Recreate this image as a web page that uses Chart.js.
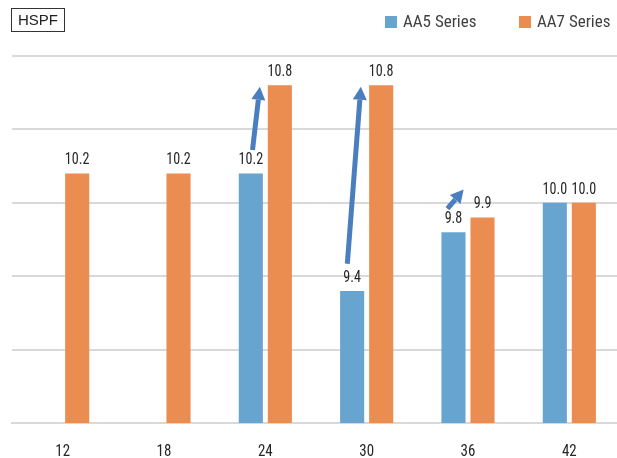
<!DOCTYPE html>
<html>
<head>
<meta charset="utf-8">
<script src="https://cdn.jsdelivr.net/npm/chart.js@4"></script>
<style>
  html, body { margin: 0; padding: 0; background: #fff; overflow: hidden; }
  #wrap { position: relative; width: 617px; height: 458px; overflow: hidden; }
  #c { position: absolute; left: 0; top: 0; }
  #unit {
    position: absolute; left: 11px; top: 8px; width: 52px; height: 22px;
    border: 1px solid #333; font: 15px 'Liberation Sans', Arial, sans-serif;
    color: #222; text-align: center; line-height: 22px;
  }
  .leg { position: absolute; top: 11px; white-space: nowrap; font: condensed 17px 'Roboto Condensed', Roboto, sans-serif; color: #404040; }
  .leg span { display: inline-block; width: 12px; height: 12px; margin-right: 6px; vertical-align: -1px; }
</style>
</head>
<body>
<div id="wrap">
  <canvas id="c" width="620" height="458"></canvas>
  <div id="unit">HSPF</div>
  <div class="leg" style="left:385px"><span style="background:#67a4d0"></span>AA5 Series</div>
  <div class="leg" style="left:519px"><span style="background:#eb8c50"></span>AA7 Series</div>
</div>
<script>
// data
const categories = ['12', '18', '24', '30', '36', '42'];
const aa5 = [null, null, 10.2, 9.4, 9.8, 10.0];
const aa7 = [10.2, 10.2, 10.8, 10.8, 9.9, 10.0];

// arrows from AA5 label up to AA7 label
const arrowCats = ['24', '30', '36'];
const arrowFrom = [10.36, 9.585, 9.96];
const arrowTo = [10.79, 10.79, 10.09];
const arrowDx0 = [0.07, -0.2, -0.25];
const arrowDx1 = [0.375, 0.36, 0.42];

const FAMILY = "'Roboto Condensed', Roboto, sans-serif";

// narrow text: the original face is tighter than Roboto Condensed
function narrowText(ctx, txt, px, py, squeeze) {
  ctx.save();
  ctx.translate(px, py);
  ctx.scale(squeeze, 1);
  ctx.fillText(txt, 0, 0);
  ctx.restore();
}

const textLayer = {
  id: 'textLayer',
  afterDatasetsDraw(chart) {
    const ctx = chart.ctx;
    const x = chart.scales.x;
    ctx.save();
    ctx.font = '17px ' + FAMILY;
    ctx.textAlign = 'center';
    ctx.textBaseline = 'alphabetic';
    ctx.fillStyle = '#262626';
    // value labels
    chart.data.datasets.forEach((ds, di) => {
      chart.getDatasetMeta(di).data.forEach((bar, i) => {
        if (ds.data[i] == null) return;
        narrowText(ctx, ds.data[i].toFixed(1), bar.x, bar.y - 9, 0.83);
      });
    });
    // category labels
    categories.forEach((c, i) => {
      narrowText(ctx, c, x.getPixelForTick(i), x.top + 33, 0.88);
    });
    ctx.restore();
  }
};

const arrows = {
  id: 'arrows',
  afterDatasetsDraw(chart) {
    const ctx = chart.ctx;
    const y = chart.scales.y;
    const meta = chart.getDatasetMeta(0);
    ctx.save();
    ctx.strokeStyle = '#4a7ebf';
    ctx.fillStyle = '#4a7ebf';
    ctx.lineWidth = 5;
    arrowCats.forEach((cat, k) => {
      const bar = meta.data[categories.indexOf(cat)];
      const x0 = bar.x + arrowDx0[k] * bar.width;
      const x1 = bar.x + arrowDx1[k] * bar.width;
      const y0 = y.getPixelForValue(arrowFrom[k]);
      const y1 = y.getPixelForValue(arrowTo[k]);
      const a = Math.atan2(y1 - y0, x1 - x0);
      const headLen = 13, headW = 7;
      const bx = x1 - headLen * Math.cos(a), by = y1 - headLen * Math.sin(a);
      ctx.beginPath();
      ctx.moveTo(x0, y0);
      ctx.lineTo(bx, by);
      ctx.stroke();
      ctx.beginPath();
      ctx.moveTo(x1, y1);
      ctx.lineTo(bx + headW * Math.sin(a), by - headW * Math.cos(a));
      ctx.lineTo(bx - headW * Math.sin(a), by + headW * Math.cos(a));
      ctx.closePath();
      ctx.fill();
    });
    ctx.restore();
  }
};

new Chart(document.getElementById('c'), {
  type: 'bar',
  data: {
    labels: categories,
    datasets: [
      { label: 'AA5 Series', data: aa5, backgroundColor: '#67a4d0' },
      { label: 'AA7 Series', data: aa7, backgroundColor: '#eb8c50' }
    ]
  },
  options: {
    responsive: false,
    devicePixelRatio: 1,
    animation: false,
    categoryPercentage: 0.573,
    barPercentage: 0.83,
    layout: { padding: { top: 56, left: 12, right: 0, bottom: 0 } },
    plugins: { legend: { display: false }, tooltip: { enabled: false } },
    scales: {
      x: {
        grid: { display: false, drawTicks: false },
        border: { display: true, color: '#d9d9d9', width: 2 },
        ticks: { display: false },
        afterFit(scale) { scale.height = 35; }
      },
      y: {
        min: 8.5,
        max: 11,
        ticks: { display: false, stepSize: 0.5 },
        grid: { color: '#d9d9d9', lineWidth: 2, drawTicks: false },
        border: { display: false }
      }
    }
  },
  plugins: [textLayer, arrows]
});
</script>
</body>
</html>
